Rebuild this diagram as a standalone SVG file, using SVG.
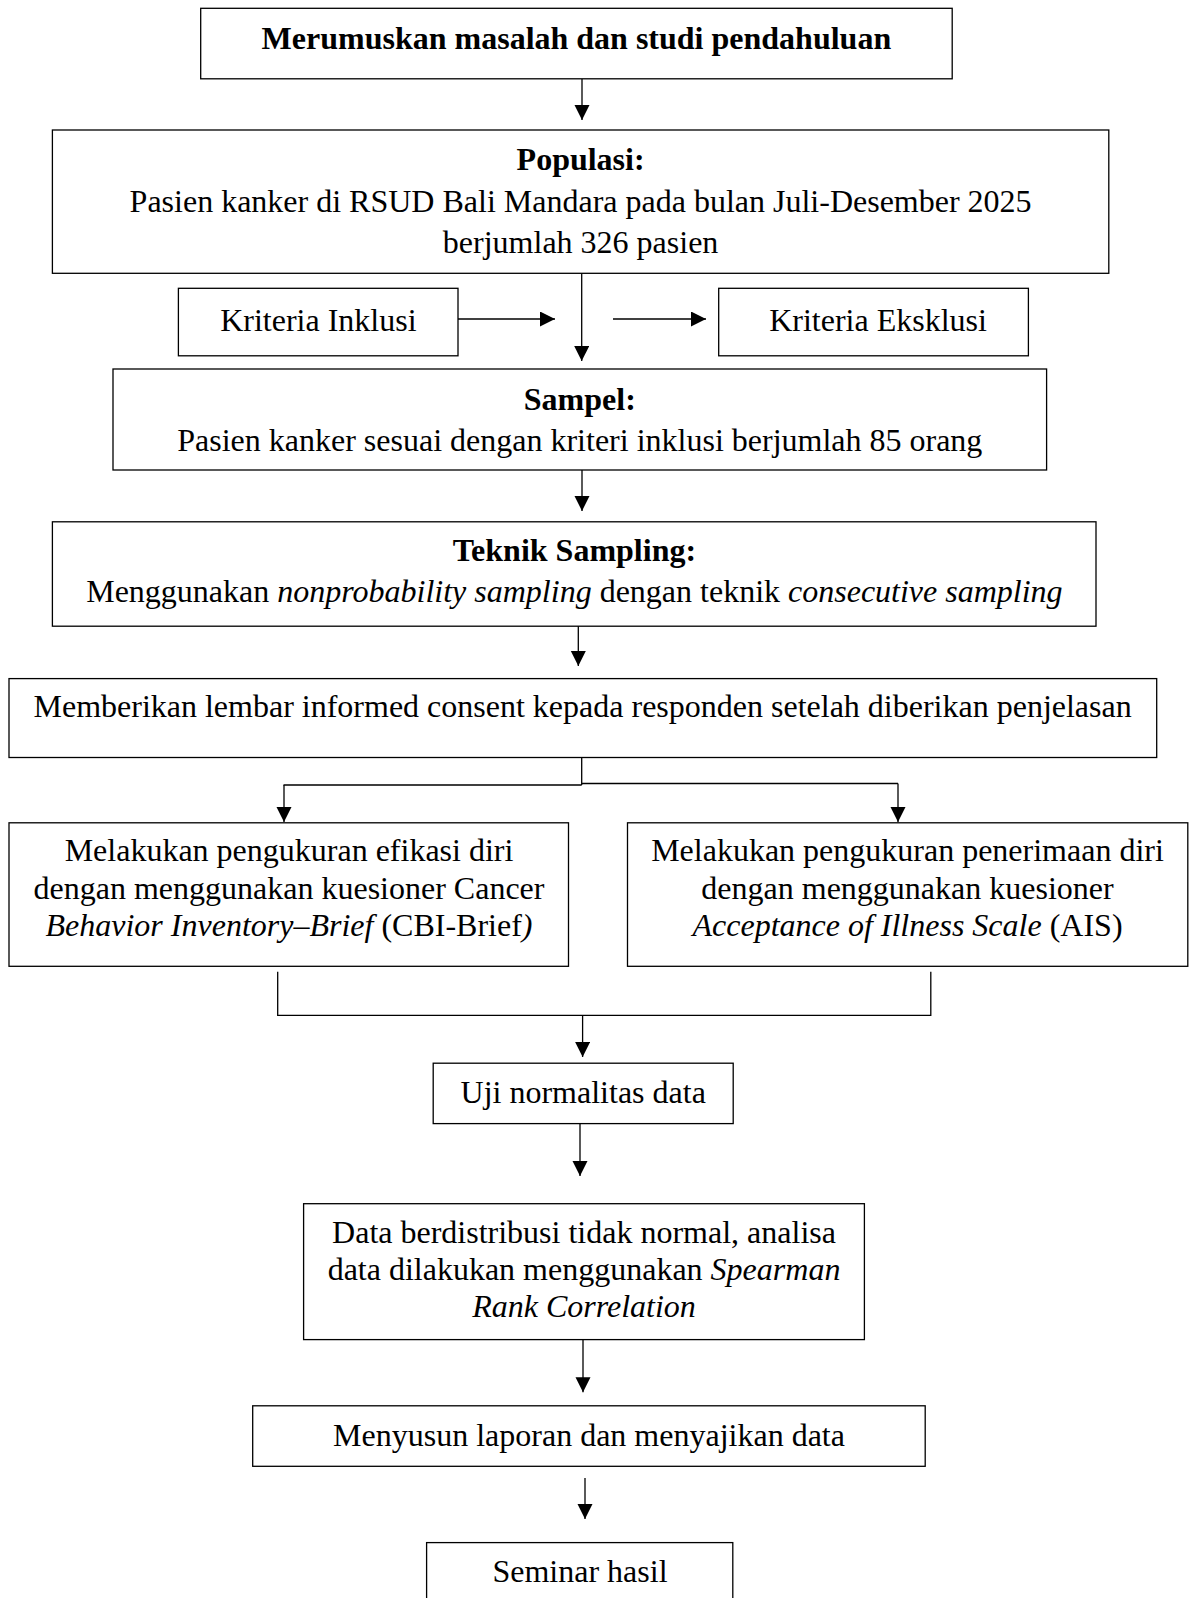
<svg xmlns="http://www.w3.org/2000/svg" width="1190" height="1598" viewBox="0 0 1190 1598">
<style>
.box{fill:#fff;stroke:#000;stroke-width:1.3}
.t{font-family:"Liberation Serif","Times New Roman",serif;font-size:32px;fill:#000;text-anchor:middle}
.b{font-weight:bold}
.i{font-style:italic}
.c{fill:none;stroke:#000;stroke-width:1.3}
</style>
<defs>
<marker id="ah" markerUnits="userSpaceOnUse" markerWidth="16" markerHeight="16" refX="15" refY="7.5" orient="auto">
<path d="M0,0 L15,7.5 L0,15 Z" fill="#000"/>
</marker>
</defs>
<rect width="1190" height="1598" fill="#fff"/>
<g id="connectors">
<path class="c" d="M582,79 V120" marker-end="url(#ah)"/>
<path class="c" d="M581.7,273.3 V361" marker-end="url(#ah)"/>
<path class="c" d="M458,319 H555" marker-end="url(#ah)"/>
<path class="c" d="M613,319 H706" marker-end="url(#ah)"/>
<path class="c" d="M582,470 V511" marker-end="url(#ah)"/>
<path class="c" d="M578.3,626 V666" marker-end="url(#ah)"/>
<path class="c" d="M581.7,757.5 V785 M283.5,785 H581.7 M581.7,783.5 H898"/>
<path class="c" d="M284,785 V822" marker-end="url(#ah)"/>
<path class="c" d="M898,783.5 V822" marker-end="url(#ah)"/>
<path class="c" d="M277.7,971.7 V1015.3 H930.8 V971.7"/>
<path class="c" d="M582.6,1015.3 V1057" marker-end="url(#ah)"/>
<path class="c" d="M580,1123.6 V1176" marker-end="url(#ah)"/>
<path class="c" d="M583,1339.6 V1392.3" marker-end="url(#ah)"/>
<path class="c" d="M585,1478 V1519" marker-end="url(#ah)"/>
</g>
<g id="n1">
<rect class="box" x="200.7" y="8.3" width="751.5" height="70.5"/>
<text class="t b" x="576.4" y="49">Merumuskan masalah dan studi pendahuluan</text>
</g>
<g id="n2">
<rect class="box" x="52.4" y="130" width="1056.4" height="143.3"/>
<text class="t b" x="580.6" y="170">Populasi:</text>
<text class="t" x="580.6" y="211.5">Pasien kanker di RSUD Bali Mandara pada bulan Juli-Desember 2025</text>
<text class="t" x="580.6" y="252.5">berjumlah 326 pasien</text>
</g>
<g id="n3">
<rect class="box" x="178.4" y="288.3" width="279.6" height="67.5"/>
<text class="t" x="318.4" y="331">Kriteria Inklusi</text>
</g>
<g id="n4">
<rect class="box" x="718.7" y="288.3" width="309.7" height="67.5"/>
<text class="t" x="878" y="331">Kriteria Eksklusi</text>
</g>
<g id="n5">
<rect class="box" x="113" y="369" width="933.6" height="101"/>
<text class="t b" x="579.8" y="410">Sampel:</text>
<text class="t" x="579.8" y="451">Pasien kanker sesuai dengan kriteri inklusi berjumlah 85 orang</text>
</g>
<g id="n6">
<rect class="box" x="52.4" y="521.8" width="1043.6" height="104.4"/>
<text class="t b" x="574.4" y="561">Teknik Sampling:</text>
<text class="t" x="574.4" y="602">Menggunakan <tspan class="i">nonprobability sampling</tspan> dengan teknik <tspan class="i">consecutive sampling</tspan></text>
</g>
<g id="n7">
<rect class="box" x="9" y="678.6" width="1147.7" height="78.9"/>
<text class="t" x="582.6" y="717">Memberikan lembar informed consent kepada responden setelah diberikan penjelasan</text>
</g>
<g id="n8">
<rect class="box" x="9" y="822.8" width="559.5" height="143.5"/>
<text class="t" x="289" y="861">Melakukan pengukuran efikasi diri</text>
<text class="t" x="289" y="898.5">dengan menggunakan kuesioner Cancer</text>
<text class="t" x="289" y="936"><tspan class="i">Behavior Inventory–Brief</tspan> (CBI-Brief<tspan class="i">)</tspan></text>
</g>
<g id="n9">
<rect class="box" x="627.5" y="822.8" width="560.3" height="143.5"/>
<text class="t" x="907.5" y="861">Melakukan pengukuran penerimaan diri</text>
<text class="t" x="907.5" y="898.5">dengan menggunakan kuesioner</text>
<text class="t" x="907.5" y="936"><tspan class="i">Acceptance of Illness Scale</tspan> (AIS)</text>
</g>
<g id="n10">
<rect class="box" x="433.2" y="1063.2" width="300" height="60.4"/>
<text class="t" x="583.2" y="1103">Uji normalitas data</text>
</g>
<g id="n11">
<rect class="box" x="303.6" y="1203.7" width="560.8" height="135.9"/>
<text class="t" x="584" y="1243">Data berdistribusi tidak normal, analisa</text>
<text class="t" x="584" y="1280">data dilakukan menggunakan <tspan class="i">Spearman</tspan></text>
<text class="t i" x="584" y="1316.5">Rank Correlation</text>
</g>
<g id="n12">
<rect class="box" x="252.7" y="1405.8" width="672.5" height="60.5"/>
<text class="t" x="589" y="1446">Menyusun laporan dan menyajikan data</text>
</g>
<g id="n13">
<rect class="box" x="426.6" y="1542.6" width="306.2" height="80"/>
<text class="t" x="580" y="1582">Seminar hasil</text>
</g>
</svg>
